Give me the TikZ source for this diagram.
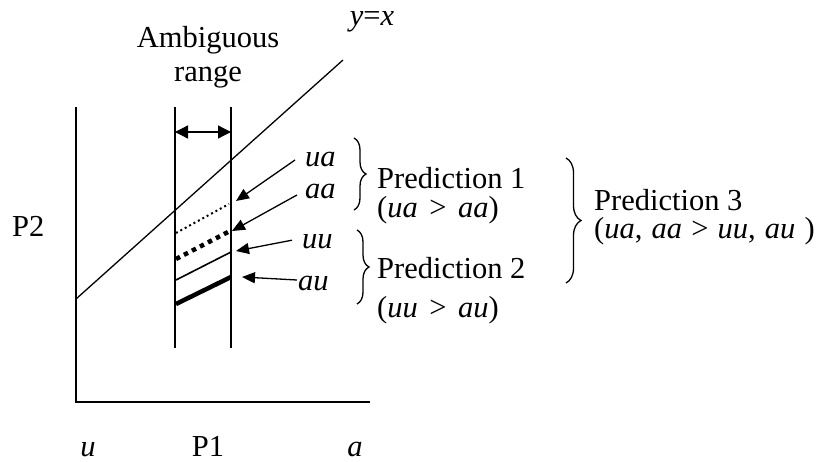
\documentclass[tikz,border=0pt]{standalone}
\usepackage{fontspec}
\setmainfont{Liberation Serif}
\usetikzlibrary{arrows.meta,decorations.pathreplacing}
\begin{document}
\begin{tikzpicture}[x=1pt,y=-1pt,
  every node/.style={inner sep=0pt,font=\fontsize{30.5}{34}\selectfont},
  axis/.style={line width=1.4pt},
  ptr/.style={line width=1.3pt,-{Triangle[length=13pt,width=11pt]}},
  dbl/.style={line width=1.3pt,{Triangle[length=13pt,width=13pt]}-{Triangle[length=13pt,width=13pt]}},
  brc/.style={line width=1.3pt,decorate,decoration={brace,amplitude=12pt}},
  lbl/.style={anchor=base west}]
\useasboundingbox (0,0) rectangle (817,461);
% axes
\coordinate (ytop) at (76,107);
\coordinate (org) at (76,402);
\coordinate (xend) at (370,402);
\draw[axis] (ytop) -- (org) -- (xend);
% ambiguous range lines
\coordinate (l1t) at (175,107); \coordinate (l1b) at (175,348);
\coordinate (l2t) at (231,107); \coordinate (l2b) at (231,348);
\draw[axis] (l1t) -- (l1b);
\draw[axis] (l2t) -- (l2b);
\coordinate (da) at (175,132); \coordinate (db) at (231,132);
\draw[dbl] (da) -- (db);
% y = x
\coordinate (ds) at (76,299); \coordinate (de) at (343,60);
\draw[line width=1.3pt] (ds) -- (de);
% four lines
\coordinate (uas) at (176,233); \coordinate (uae) at (229,204);
\coordinate (aas) at (176,259); \coordinate (aae) at (230,231);
\coordinate (uus) at (176,280); \coordinate (uue) at (231,252);
\coordinate (aus) at (176,304); \coordinate (aue) at (231,277);
\draw[line width=2pt,dash pattern=on 2pt off 3pt] (uas) -- (uae);
\draw[line width=4.5pt,dash pattern=on 4.5pt off 4.5pt] (aas) -- (aae);
\draw[line width=1.6pt] (uus) -- (uue);
\draw[line width=4.5pt] (aus) -- (aue);
% texts
\node[anchor=base] (yx) at (372,25) {\textit{y}=\textit{x}};
\node[anchor=base] (amb) at (208,47) {Ambiguous};
\node[anchor=base] (rng) at (208,81) {range};
\node[lbl] (ua) at (305,166) {\textit{ua}};
\node[lbl] (aa) at (305,198) {\textit{aa}};
\node[lbl] (uu) at (302,248) {\textit{uu}};
\node[lbl] (au) at (298,290) {\textit{au}};
\node[lbl] (p2) at (12,236) {P2};
\node[anchor=base] (xu) at (88,456) {\textit{u}};
\node[anchor=base] (p1) at (208,456) {P1};
\node[anchor=base] (xa) at (355,456) {\textit{a}};
% arrows
\coordinate (tua) at (236,201);
\coordinate (taa) at (232,231);
\coordinate (tuu) at (236,251);
\coordinate (tau) at (242,277);
\draw[ptr] ([xshift=-10pt,yshift=-1pt]ua.west) -- (tua);
\draw[ptr] ([xshift=-8pt,yshift=-4pt]aa.west) -- (taa);
\draw[ptr] ([xshift=-10pt,yshift=1pt]uu.west) -- (tuu);
\draw[ptr] ([xshift=-1pt,yshift=3pt]au.west) -- (tau);
% predictions
\node[lbl] (pr1) at (377,188) {Prediction 1};
\node[lbl] (pr1b) at (377,217) {\spaceskip=0.38em(\textit{ua} > \textit{aa})};
\node[lbl] (pr2) at (377,278) {Prediction 2};
\node[lbl] (pr2b) at (377,317) {\spaceskip=0.38em(\textit{uu} > \textit{au})};
\node[lbl] (pr3) at (594,210) {Prediction 3};
\node[lbl] (pr3b) at (594,238) {\spaceskip=0.3em(\textit{ua}, \textit{aa} > \textit{uu}, \textit{au} )};
\coordinate (b1t) at (354,138); \coordinate (b1b) at (354,210);
\coordinate (b2t) at (357,230); \coordinate (b2b) at (357,304);
\coordinate (b3t) at (566,158); \coordinate (b3b) at (566,283);
\draw[brc] (b1t) -- (b1b);
\draw[brc] (b2t) -- (b2b);
\draw[brc,decoration={amplitude=15pt}] (b3t) -- (b3b);
\end{tikzpicture}
\end{document}
